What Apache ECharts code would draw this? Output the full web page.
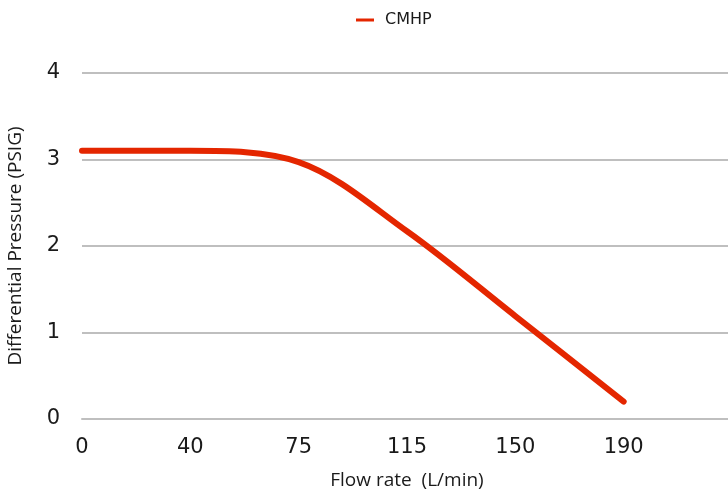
<!DOCTYPE html>
<html>
<head>
<meta charset="utf-8">
<script src="https://cdn.jsdelivr.net/npm/echarts@6/dist/echarts.min.js"></script>
<style>
html,body{margin:0;padding:0;background:#fff;}
#c{width:728px;height:495px;}
</style>
</head>
<body>
<div id="c"></div>
<script>
const categories = ['0', '40', '75', '115', '150', '190', ''];
const seriesName = 'CMHP';
const cmhpValues = [3.1, 3.1, 2.97, 2.17, 1.19, 0.2, null];
const yTicks = [0, 1, 2, 3, 4];

const chart = echarts.init(document.getElementById('c'));
chart.setOption({
  animation: false,
  backgroundColor: '#ffffff',
  legend: {
    left: 351,
    top: 7,
    icon: 'rect',
    itemWidth: 18,
    itemHeight: 3,
    textStyle: { fontFamily: 'DejaVu Sans', fontSize: 16, color: '#1a1a1a', padding: [0, 0, 0, 6] },
    data: [seriesName]
  },
  grid: { left: 82, right: -4, top: 73, bottom: 76, containLabel: false, outerBoundsMode: 'none' },
  xAxis: {
    type: 'category',
    data: categories,
    boundaryGap: false,
    name: 'Flow rate  (L/min)',
    nameLocation: 'middle',
    nameGap: 52,
    nameTextStyle: { fontFamily: 'Open Sans', fontSize: 19, color: '#1a1a1a' },
    axisLine: { show: true, lineStyle: { color: '#bfbfbf', width: 2 } },
    axisTick: { show: false },
    axisLabel: { fontFamily: 'DejaVu Sans', fontSize: 21, color: '#1a1a1a', margin: 18 },
    splitLine: { show: false }
  },
  yAxis: {
    type: 'value',
    min: yTicks[0],
    max: yTicks[yTicks.length - 1],
    interval: 1,
    name: 'Differential Pressure (PSIG)',
    nameLocation: 'middle',
    nameGap: 57,
    nameRotate: 90,
    nameTextStyle: { fontFamily: 'Open Sans', fontSize: 19, color: '#1a1a1a' },
    axisLine: { show: false },
    axisTick: { show: false },
    axisLabel: { fontFamily: 'DejaVu Sans', fontSize: 21, color: '#1a1a1a', margin: 22 },
    splitLine: { show: true, lineStyle: { color: '#bfbfbf', width: 2 } }
  },
  series: [{
    name: seriesName,
    type: 'line',
    data: cmhpValues,
    smooth: 0.33,
    showSymbol: false,
    symbol: 'none',
    itemStyle: { color: '#e42600' },
    lineStyle: { color: '#e42600', width: 6, cap: 'round' }
  }]
});
</script>
</body>
</html>
